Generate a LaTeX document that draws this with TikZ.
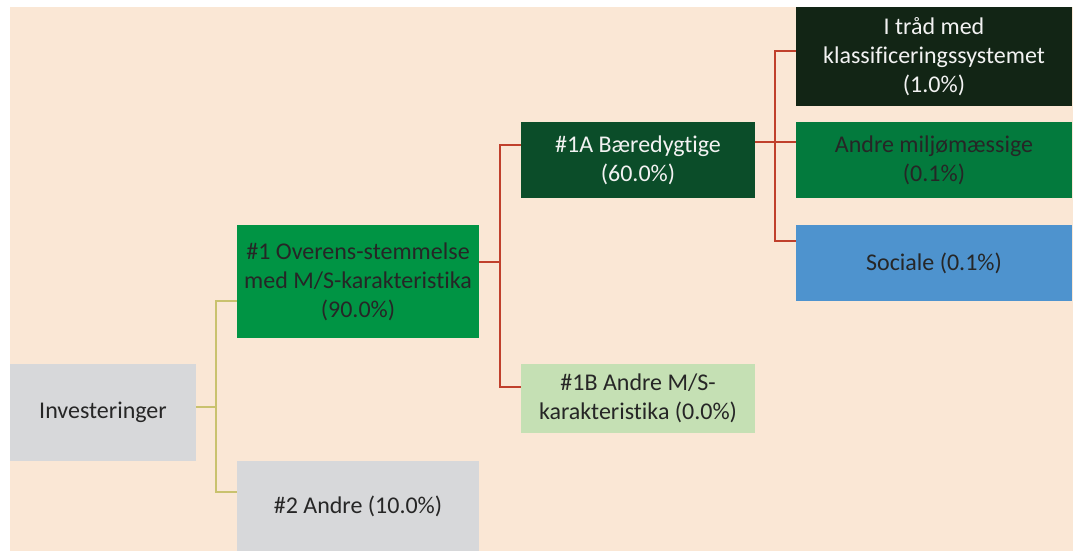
\documentclass[tikz,border=0pt]{standalone}
\usepackage{fontspec}
\setmainfont{Carlito}[Ligatures=NoCommon]
\usepackage{tikz}
\usetikzlibrary{calc}
\definecolor{peach}{RGB}{250,231,213}
\definecolor{boxgray}{RGB}{215,216,218}
\definecolor{greenA}{RGB}{0,148,68}
\definecolor{greenB}{RGB}{11,77,41}
\definecolor{greenC}{RGB}{18,37,21}
\definecolor{greenD}{RGB}{3,122,61}
\definecolor{greenE}{RGB}{197,224,180}
\definecolor{boxblue}{RGB}{78,147,206}
\definecolor{linered}{RGB}{192,64,44}
\definecolor{lineyellow}{RGB}{201,194,110}
\definecolor{darktext}{RGB}{38,38,38}
\definecolor{lighttext}{RGB}{242,242,242}
\tikzstyle{block} = [rectangle, align=center, inner sep=2pt, text=darktext, font=\fontsize{24}{29}\selectfont]
\tikzstyle{yline} = [draw, lineyellow, line width=2.6pt]
\tikzstyle{rline} = [draw, linered, line width=2.6pt]

\begin{document}
\begin{tikzpicture}[x=1pt, y=-1pt]
        \useasboundingbox (0,0) rectangle (1077,551);
        \fill[peach] (10,7) rectangle (1073,551);
        % left part
        \node[block, fill=boxgray, minimum width=186pt, minimum height=97pt] (inv) at (103,412.5) {Investeringer};
        \node[block, fill=greenA, minimum width=242pt, minimum height=113pt] (one) at (358,281.5) {\#1 Overens-stemmelse\\med M/S-karakteristika\\(90.0\%)};
        \node[block, fill=boxgray, minimum width=242pt, minimum height=90pt] (two) at (358,506) {\#2 Andre (10.0\%)};
        % middle
        \node[block, fill=greenB, text=lighttext, minimum width=234pt, minimum height=76pt] (oneA) at (638,160) {\#1A Bæredygtige\\(60.0\%)};
        \node[block, fill=greenE, minimum width=234pt, minimum height=69pt] (oneB) at (638,398.5) {\#1B Andre M/S-\\karakteristika (0.0\%)};
        % right
        \node[block, fill=greenC, text=lighttext, minimum width=276pt, minimum height=99pt] (tax) at (934,56.5) {I tråd med\\klassificeringssystemet\\(1.0\%)};
        \node[block, fill=greenD, minimum width=276pt, minimum height=76pt] (env) at (934,160) {Andre miljømæssige\\(0.1\%)};
        \node[block, fill=boxblue, minimum width=276pt, minimum height=76pt] (soc) at (934,263) {Sociale (0.1\%)};
        % connectors
        \coordinate (jy) at (216,407);
        \path[yline] ($(inv.east)+(0,-5.5)$) -- (jy);
        \path[yline] (jy) |- ($(one.west)+(0,19.5)$);
        \path[yline] (jy) |- ($(two.west)+(0,-14)$);
        \coordinate (jr) at (500,262);
        \path[rline] ($(one.east)+(0,-19.5)$) -- (jr);
        \path[rline] (jr) |- ($(oneA.west)+(0,-15)$);
        \path[rline] (jr) |- ($(oneB.west)+(0,-11.5)$);
        \coordinate (jr2) at (775,142);
        \path[rline] ($(oneA.east)+(0,-18)$) -- (jr2);
        \path[rline] (jr2) |- ($(tax.west)+(0,-5.5)$);
        \path[rline] (jr2) -- ($(env.west)+(0,-18)$);
        \path[rline] (jr2) |- ($(soc.west)+(0,-22)$);
    \end{tikzpicture}
\end{document}
